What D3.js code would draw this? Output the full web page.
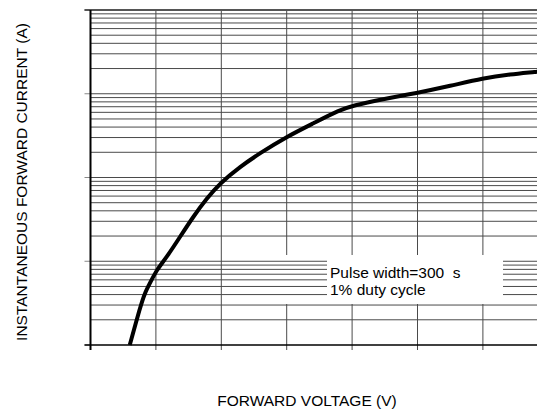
<!DOCTYPE html>
<html>
<head>
<meta charset="utf-8">
<script src="https://cdn.jsdelivr.net/npm/d3@7"></script>
<style>
  body { margin: 0; background: #fff; }
  svg { display: block; }
  text { font-family: "Liberation Sans", Arial, sans-serif; fill: #000; }
</style>
</head>
<body>
<svg></svg>
<script>
// forward voltage (V)
var voltage = [0.460, 0.476, 0.483, 0.491, 0.501, 0.517, 0.537, 0.557, 0.578, 0.598,
  0.629, 0.659, 0.700, 0.741, 0.781, 0.802, 0.843, 0.899, 0.950, 1.001, 1.041, 1.083, 1.100];
// instantaneous forward current (A)
var current = [0.010, 0.0284, 0.0418, 0.055, 0.0786, 0.113, 0.196, 0.340, 0.565, 0.853,
  1.35, 1.95, 3.07, 4.44, 6.40, 7.24, 8.54, 10.2, 12.4, 15.4, 17.0, 18.3, 19.0];

// grid positions
var voltTicks = [0.4, 0.5, 0.6, 0.7, 0.8, 0.9, 1.0, 1.1];
var decades = [0.01, 0.1, 1, 10, 100];
var minorSteps = [2, 3, 4, 5, 6, 7, 8, 9];

var noteLines = ['Pulse width=300  s', '1% duty cycle'];

var width = 537, height = 412;
var plotLeft = 90.5, plotTop = 10, plotBottom = 345;
var fontSize = 15.5;

var svg = d3.select('svg')
  .attr('width', width)
  .attr('height', height);

var x = d3.scaleLinear()
  .domain([0.4, 1.2])
  .range([plotLeft, plotLeft + 523.2]);

var y = d3.scaleLog()
  .domain([0.01, 100])
  .range([plotBottom, plotTop]);

// minor + decade horizontal values
var hVals = [];
decades.forEach(function(d, i) {
  hVals.push(d);
  if (i < decades.length - 1) {
    minorSteps.forEach(function(m) { hVals.push(d * m); });
  }
});

// vertical grid
svg.append('g').selectAll('line')
  .data(voltTicks.slice(1))
  .enter().append('line')
  .attr('x1', function(d) { return x(d); })
  .attr('x2', function(d) { return x(d); })
  .attr('y1', plotTop)
  .attr('y2', plotBottom + 5)
  .attr('stroke', '#4a4a4a')
  .attr('stroke-width', 1);

// box behind the note hides the vertical lines
svg.append('rect')
  .attr('x', 281).attr('y', 255)
  .attr('width', 222).attr('height', 49)
  .attr('fill', '#fff');

// horizontal grid
svg.append('g').selectAll('line')
  .data(hVals.filter(function(d) { return d > 0.01 && d < 100; }))
  .enter().append('line')
  .attr('x1', plotLeft)
  .attr('x2', width)
  .attr('y1', function(d) { return y(d); })
  .attr('y2', function(d) { return y(d); })
  .attr('stroke', '#4a4a4a')
  .attr('stroke-width', 1);

// decade ticks on the left
svg.append('g').selectAll('line')
  .data(decades)
  .enter().append('line')
  .attr('x1', plotLeft - 6)
  .attr('x2', plotLeft)
  .attr('y1', function(d) { return y(d); })
  .attr('y2', function(d) { return y(d); })
  .attr('stroke', '#888')
  .attr('stroke-width', 1);

// note box
svg.append('rect')
  .attr('x', 327).attr('y', 256)
  .attr('width', 176).attr('height', 47)
  .attr('fill', '#fff');

svg.append('g').selectAll('text')
  .data(noteLines)
  .enter().append('text')
  .attr('x', 330)
  .attr('y', function(d, i) { return 278 + i * 17; })
  .attr('font-size', fontSize)
  .style('white-space', 'pre')
  .text(function(d) { return d; });

// top border
svg.append('line')
  .attr('x1', plotLeft - 6).attr('x2', width)
  .attr('y1', plotTop).attr('y2', plotTop)
  .attr('stroke', '#555')
  .attr('stroke-width', 2);

// axes
svg.append('line')
  .attr('x1', plotLeft - 6).attr('x2', width)
  .attr('y1', plotBottom).attr('y2', plotBottom)
  .attr('stroke', '#000')
  .attr('stroke-width', 1.5);

svg.append('line')
  .attr('x1', plotLeft).attr('x2', plotLeft)
  .attr('y1', plotTop).attr('y2', plotBottom + 5)
  .attr('stroke', '#000')
  .attr('stroke-width', 2);

// curve
var line = d3.line()
  .x(function(d) { return x(d[0]); })
  .y(function(d) { return y(d[1]); })
  .curve(d3.curveBasis);

svg.append('path')
  .datum(d3.zip(voltage, current))
  .attr('d', line)
  .attr('fill', 'none')
  .attr('stroke', '#000')
  .attr('stroke-width', 4);

// axis titles
svg.append('text')
  .attr('x', 307)
  .attr('y', 406)
  .attr('text-anchor', 'middle')
  .attr('font-size', fontSize)
  .text('FORWARD VOLTAGE (V)');

svg.append('text')
  .attr('transform', 'translate(27,182) rotate(-90)')
  .attr('text-anchor', 'middle')
  .attr('font-size', fontSize)
  .text('INSTANTANEOUS FORWARD CURRENT (A)');
</script>
</body>
</html>
